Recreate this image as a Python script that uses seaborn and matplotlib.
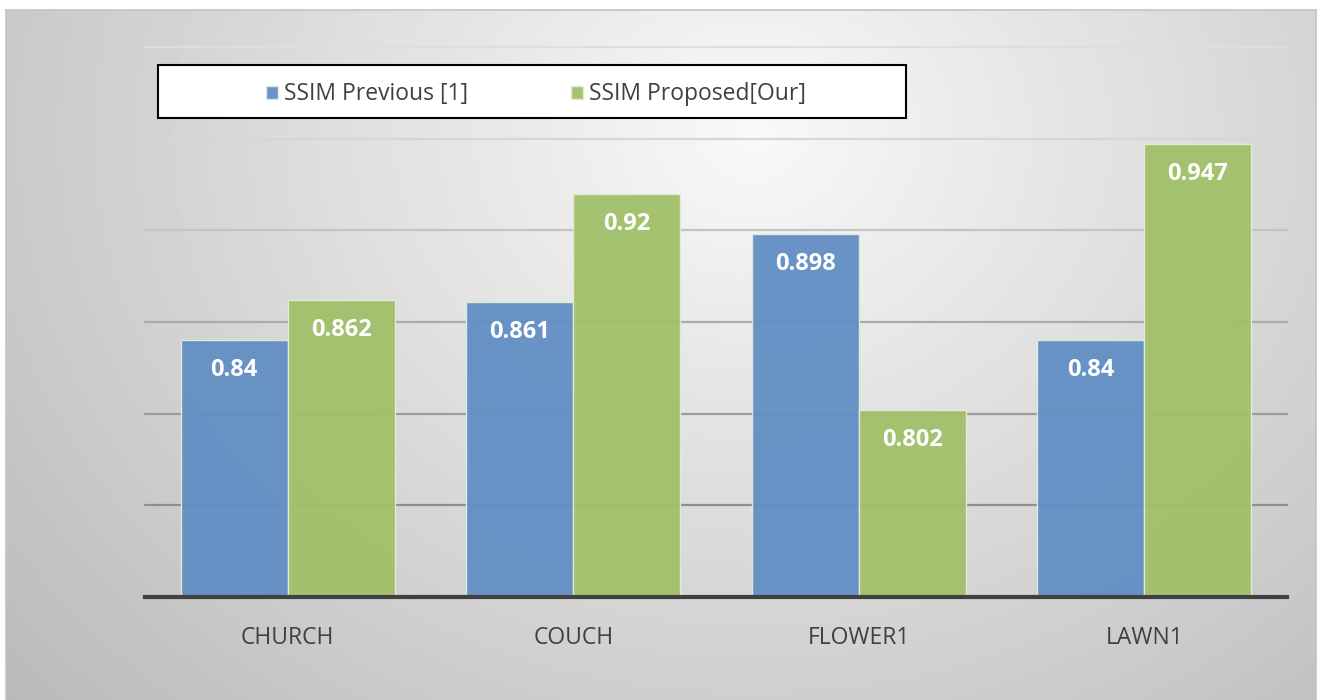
import numpy as np
import pandas as pd
import matplotlib
matplotlib.use("Agg")
import matplotlib.pyplot as plt
import seaborn as sns
from matplotlib.patches import Rectangle

# Data
scenes = ["CHURCH", "COUCH", "FLOWER1", "LAWN1"]
ssim_previous = [0.84, 0.861, 0.898, 0.84]
ssim_proposed = [0.862, 0.92, 0.802, 0.947]
series_names = ["SSIM Previous [1]", "SSIM Proposed[Our]"]
grid_levels = [0.75, 0.80, 0.85, 0.90, 0.95, 1.00]

df = pd.DataFrame({
    "scene": scenes * 2,
    "ssim": ssim_previous + ssim_proposed,
    "method": [series_names[0]] * len(scenes) + [series_names[1]] * len(scenes),
})

sns.set_theme(style="white")
plt.rcParams["font.family"] = ["Open Sans", "DejaVu Sans"]

W, H = 1318, 700
fig = plt.figure(figsize=(W / 100, H / 100), dpi=100, facecolor="white")

# Soft radial backdrop panel
bg = fig.add_axes([6 / W, 0, 1310 / W, 690 / H])
ny, nx = 345, 655
yy, xx = np.mgrid[0:1:ny * 1j, 0:1:nx * 1j]
r = np.sqrt(((xx - 0.57) / 0.62) ** 2 + ((yy - 0.18) / 1.0) ** 2)
shade = np.clip(0.975 - 0.2 * r, 0, 1)
bg.imshow(shade, cmap="gray", vmin=0, vmax=1, extent=(0, 1, 0, 1),
          aspect="auto", interpolation="bilinear")
bg.set_xlim(0, 1)
bg.set_ylim(0, 1)
bg.set_xticks([])
bg.set_yticks([])
for side, sp in bg.spines.items():
    sp.set_color("#c4c4c4")
    sp.set_linewidth(1.2)
bg.spines["bottom"].set_visible(False)

# Main plot
ax = fig.add_axes([145 / W, 103 / H, 1142 / W, 550 / H])
ax.set_facecolor("none")

grid_colors = ["#8e8e8e", "#9c9c9c", "#ababab", "#c4c4c4", "#d6d6d6", "#dedede"]
for lvl, col in zip(grid_levels, grid_colors):
    ax.axhline(lvl, color=col, lw=1.6, zorder=0.5, clip_on=False)

sns.barplot(data=df, x="scene", y="ssim", hue="method",
            palette=["#628ec4", "#a1c06a"], saturation=1, width=0.75, gap=0,
            alpha=0.95, edgecolor="#e4ecd8", linewidth=1.0,
            errorbar=None, ax=ax, zorder=2)

handles, labels = ax.get_legend_handles_labels()
if ax.get_legend() is not None:
    ax.get_legend().remove()

ax.set_ylim(0.7, 1.0)
ax.set_xlim(-0.5, len(scenes) - 0.5)
ax.set_yticks([])
ax.set_xlabel("")
ax.set_ylabel("")
for side in ["left", "right", "top"]:
    ax.spines[side].set_visible(False)
ax.spines["bottom"].set_color("#404040")
ax.spines["bottom"].set_linewidth(3)
ax.spines["bottom"].set_capstyle("projecting")
ax.tick_params(axis="x", length=0, pad=21, labelsize=16.5, labelcolor="#404040")

# Value labels inside the top of each bar
for container, vals in zip(ax.containers, [ssim_previous, ssim_proposed]):
    for bar, v in zip(container, vals):
        ax.annotate(f"{v:g}", xy=(bar.get_x() + bar.get_width() / 2, v),
                    xytext=(0, -21.5), textcoords="offset points",
                    ha="center", va="center", color="white",
                    fontweight="bold", fontsize=17, zorder=5)

# Legend with framed box
box = Rectangle((158 / W, 1 - 118 / H), 748 / W, 53 / H,
                transform=fig.transFigure, facecolor="white",
                edgecolor="black", lw=1.5, zorder=4)
fig.add_artist(box)
fig.legend(handles, labels, loc="center",
           bbox_to_anchor=(536 / W, 1 - 94.5 / H), bbox_transform=fig.transFigure,
           ncol=2, frameon=False, fontsize=16.5, handlelength=0.52,
           handleheight=0.52, handletextpad=0.25, columnspacing=4.5,
           labelcolor="#404040")

fig.savefig("out.png", dpi=100)
